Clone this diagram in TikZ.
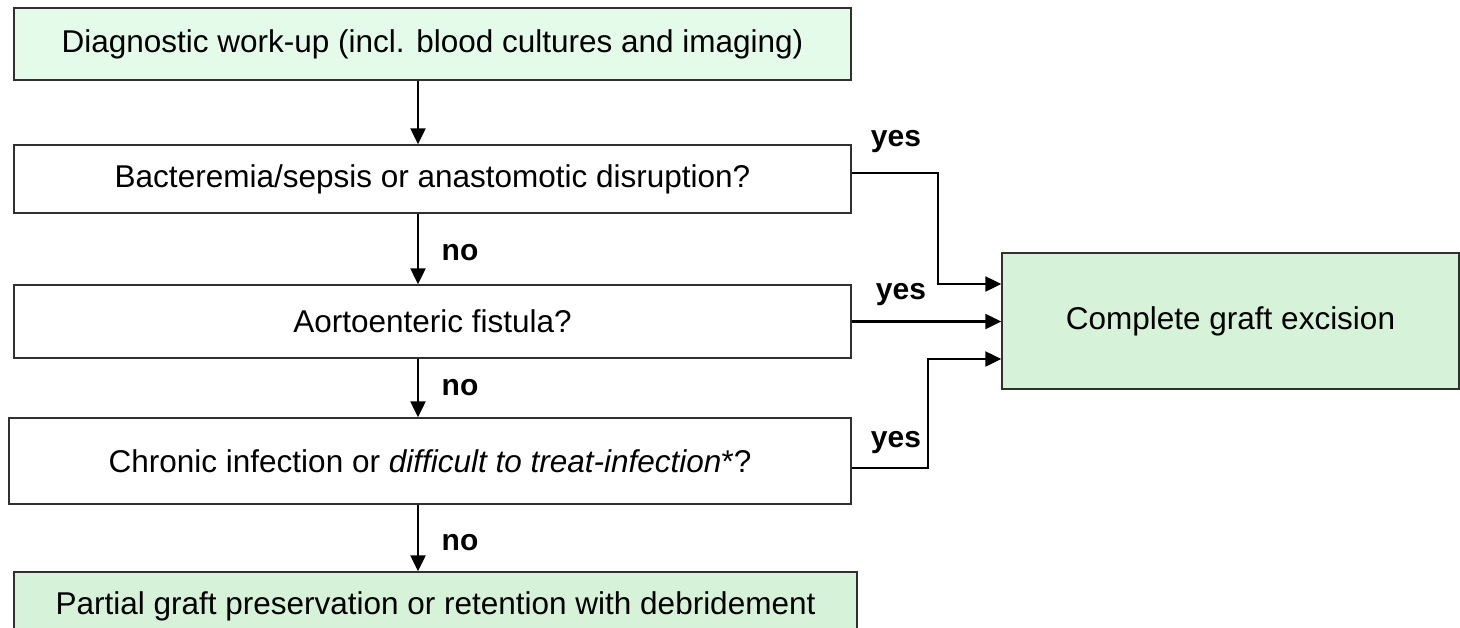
\documentclass[tikz,border=0pt]{standalone}
\usepackage{fontspec}
\setmainfont{Liberation Sans}
\usetikzlibrary{arrows.meta}
\definecolor{lightgreen}{HTML}{E4FBEA}
\definecolor{midgreen}{HTML}{D6F2D8}
\definecolor{boxline}{HTML}{303030}
\tikzset{
  box/.style={draw=boxline, line width=1.5pt, rectangle, inner sep=0pt, align=center,
    font=\fontsize{31.5}{36}\selectfont},
  arr/.style={line width=2.5pt, -{Triangle[length=16pt,width=15pt]}},
  lab/.style={font=\fontsize{30}{34}\selectfont\bfseries, inner sep=0pt},
}
\begin{document}
\begin{tikzpicture}[x=1pt,y=-1pt]
\useasboundingbox (0,0) rectangle (1460,627);
\clip (0,0) rectangle (1460,627);
\node[box, fill=lightgreen, minimum width=837pt, minimum height=72pt] (b1) at (432.5,44)
  {Diagnostic work-up (incl. blood cultures and imaging)};
\node[box, fill=white, minimum width=837pt, minimum height=68pt] (b2) at (432.5,179)
  {Bacteremia/sepsis or anastomotic disruption?};
\node[box, fill=white, minimum width=837pt, minimum height=73pt] (b3) at (432.5,321.5)
  {Aortoenteric fistula?};
\node[box, fill=white, minimum width=842pt, minimum height=86pt] (b4) at (430,461)
  {Chronic infection or \textit{difficult to treat-infection}*?};
\node[box, fill=midgreen, minimum width=843pt, minimum height=68pt] (b5) at (435.5,606)
  {Partial graft preservation or retention with debridement};
\node[box, fill=midgreen, minimum width=457pt, minimum height=136pt] (b6) at (1230.5,321)
  {Complete graft excision};
\coordinate (ax) at (418,0);
\draw[arr] (b1.south -| ax) -- (b2.north -| ax);
\draw[arr] (b2.south -| ax) -- (b3.north -| ax);
\draw[arr] (b3.south -| ax) -- (b4.north -| ax);
\draw[arr] (b4.south -| ax) -- (b5.north -| ax);
\draw[arr] ([yshift=6pt]b2.east) -- ++(86,0) |- ([yshift=37pt]b6.west);
\draw[arr] (b3.east) -- (b3.east -| b6.west);
\draw[arr] ([yshift=-7pt]b4.east) -- ++(76,0) |- ([yshift=-38pt]b6.west);
\node[lab] (y1) at (896,142) {yes};
\node[lab] (y2) at (901,295) {yes};
\node[lab] (y3) at (896,443) {yes};
\node[lab] (n1) at (460,253) {no};
\node[lab] (n2) at (460,388) {no};
\node[lab] (n3) at (460,543) {no};
\end{tikzpicture}
\end{document}
